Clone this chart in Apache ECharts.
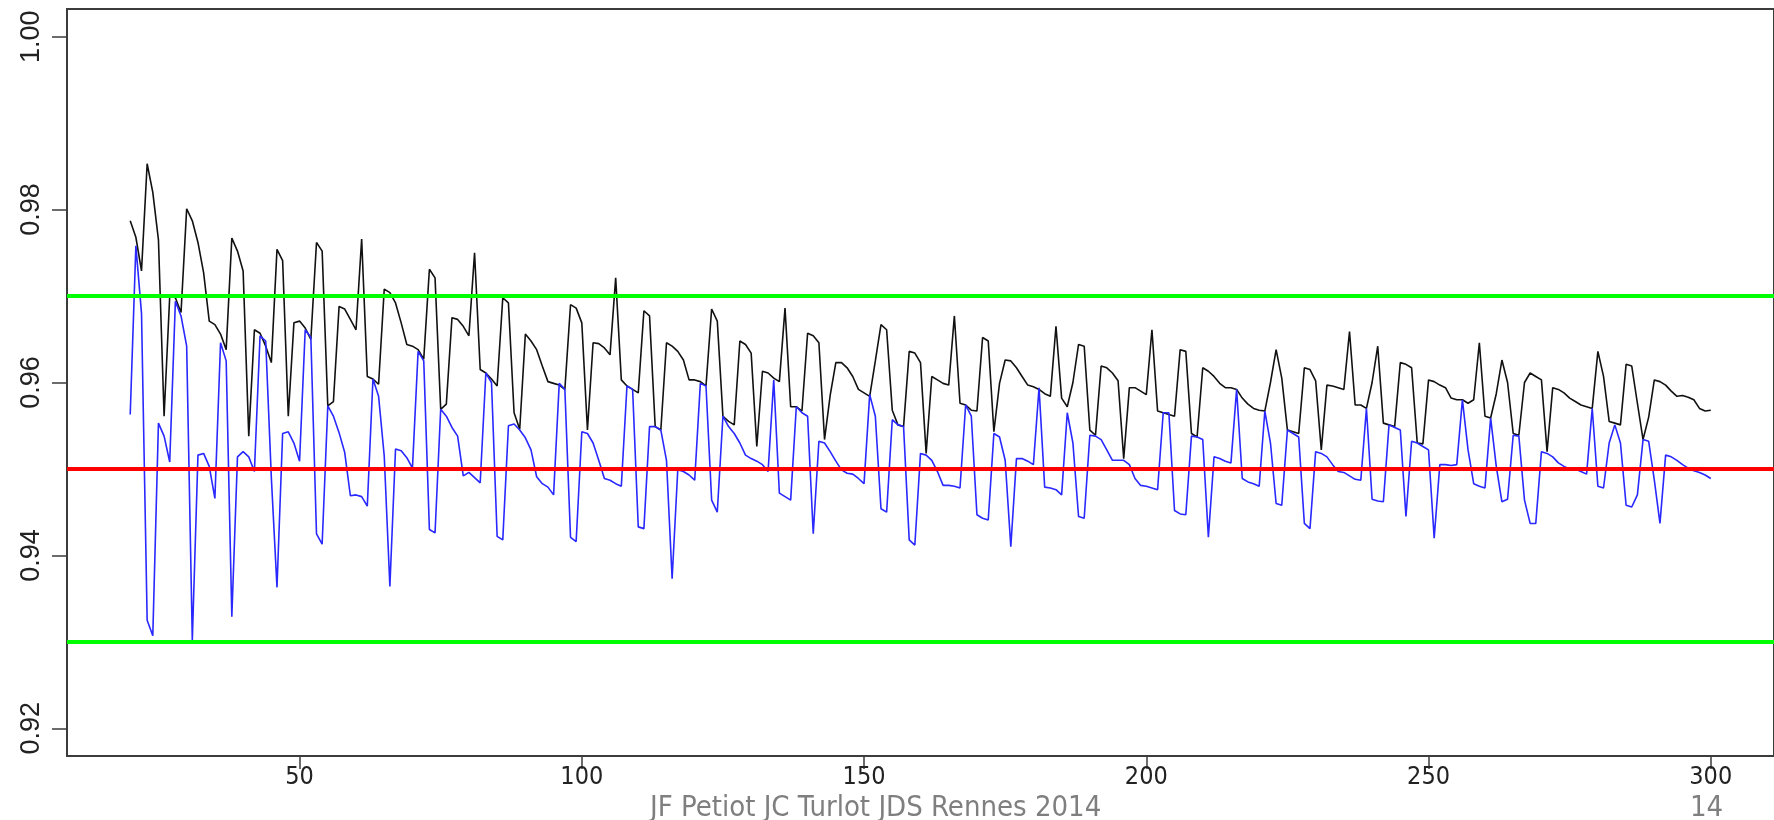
<!DOCTYPE html>
<html>
<head>
<meta charset="utf-8">
<script src="https://cdn.jsdelivr.net/npm/echarts@6/dist/echarts.min.js"></script>
<style>
html,body{margin:0;padding:0;background:#fff;}
#chart{width:1774px;height:820px;}
</style>
</head>
<body>
<div id="chart"></div>
<script>
// n runs from nStart upward, one value per integer n
const nStart = 20;
const xTicks = [50, 100, 150, 200, 250, 300];
const yTicks = [0.92, 0.94, 0.96, 0.98, 1.00];
const refGreen = [0.97, 0.93];
const refRed = [0.95];

const blackSeries = [
  0.9787,0.9768,0.9729,0.9853,0.9820,0.9765,0.9561,0.9700,0.9698,0.9681,
  0.9801,0.9787,0.9762,0.9727,0.9671,0.9667,0.9656,0.9638,0.9767,0.9752,
  0.9729,0.9538,0.9661,0.9657,0.9642,0.9623,0.9754,0.9741,0.9561,0.9669,
  0.9671,0.9663,0.9650,0.9762,0.9752,0.9573,0.9578,0.9688,0.9685,0.9673,
  0.9661,0.9766,0.9607,0.9604,0.9598,0.9708,0.9704,0.9692,0.9669,0.9644,
  0.9642,0.9638,0.9627,0.9731,0.9721,0.9569,0.9575,0.9675,0.9673,0.9665,
  0.9654,0.9750,0.9615,0.9611,0.9604,0.9596,0.9698,0.9692,0.9565,0.9546,
  0.9656,0.9648,0.9638,0.9619,0.9601,0.9599,0.9597,0.9592,0.9690,0.9686,
  0.9669,0.9545,0.9646,0.9645,0.9640,0.9632,0.9721,0.9603,0.9596,0.9592,
  0.9588,0.9683,0.9677,0.9549,0.9545,0.9646,0.9642,0.9636,0.9626,0.9603,
  0.9603,0.9601,0.9596,0.9685,0.9671,0.9561,0.9555,0.9551,0.9648,0.9644,
  0.9634,0.9526,0.9613,0.9611,0.9605,0.9601,0.9686,0.9572,0.9572,0.9567,
  0.9657,0.9654,0.9646,0.9534,0.9585,0.9623,0.9623,0.9617,0.9607,0.9592,
  0.9588,0.9584,0.9625,0.9667,0.9661,0.9568,0.9551,0.9549,0.9636,0.9634,
  0.9623,0.9518,0.9607,0.9603,0.9599,0.9597,0.9677,0.9576,0.9574,0.9568,
  0.9567,0.9652,0.9648,0.9543,0.9599,0.9626,0.9625,0.9617,0.9607,0.9597,
  0.9595,0.9592,0.9587,0.9584,0.9665,0.9582,0.9572,0.9600,0.9644,0.9642,
  0.9545,0.9539,0.9619,0.9617,0.9611,0.9602,0.9512,0.9594,0.9594,0.9590,
  0.9586,0.9661,0.9567,0.9565,0.9563,0.9561,0.9638,0.9636,0.9541,0.9537,
  0.9617,0.9613,0.9607,0.9599,0.9594,0.9594,0.9592,0.9582,0.9575,0.9570,
  0.9568,0.9567,0.9600,0.9638,0.9605,0.9545,0.9543,0.9541,0.9617,0.9615,
  0.9602,0.9522,0.9597,0.9596,0.9594,0.9592,0.9659,0.9574,0.9574,0.9570,
  0.9600,0.9642,0.9553,0.9551,0.9549,0.9623,0.9621,0.9617,0.9530,0.9529,
  0.9603,0.9601,0.9597,0.9594,0.9582,0.9580,0.9580,0.9576,0.9580,0.9646,
  0.9561,0.9559,0.9587,0.9626,0.9600,0.9541,0.9539,0.9600,0.9611,0.9607,
  0.9603,0.9520,0.9594,0.9592,0.9588,0.9582,0.9578,0.9574,0.9572,0.9570,
  0.9636,0.9607,0.9555,0.9553,0.9551,0.9621,0.9619,0.9576,0.9534,0.9560,
  0.9603,0.9601,0.9597,0.9590,0.9584,0.9585,0.9583,0.9580,0.9570,0.9567,
  0.9568
];

const blueSeries = [
  0.9563,0.9758,0.9680,0.9325,0.9307,0.9553,0.9538,0.9508,0.9694,0.9677,
  0.9642,0.9302,0.9516,0.9518,0.9503,0.9466,0.9646,0.9625,0.9329,0.9514,
  0.9520,0.9514,0.9497,0.9654,0.9648,0.9490,0.9363,0.9541,0.9543,0.9530,
  0.9509,0.9661,0.9652,0.9425,0.9413,0.9573,0.9561,0.9542,0.9519,0.9469,
  0.9470,0.9468,0.9457,0.9604,0.9584,0.9515,0.9364,0.9523,0.9521,0.9513,
  0.9501,0.9636,0.9625,0.9430,0.9426,0.9569,0.9561,0.9548,0.9538,0.9492,
  0.9496,0.9490,0.9484,0.9611,0.9600,0.9422,0.9418,0.9550,0.9552,0.9545,
  0.9536,0.9522,0.9491,0.9483,0.9479,0.9470,0.9599,0.9592,0.9421,0.9416,
  0.9543,0.9541,0.9530,0.9510,0.9489,0.9487,0.9483,0.9480,0.9596,0.9592,
  0.9433,0.9431,0.9549,0.9549,0.9545,0.9510,0.9373,0.9499,0.9497,0.9493,
  0.9487,0.9599,0.9596,0.9464,0.9450,0.9561,0.9549,0.9541,0.9530,0.9516,
  0.9512,0.9509,0.9505,0.9497,0.9603,0.9472,0.9468,0.9464,0.9572,0.9565,
  0.9561,0.9425,0.9532,0.9530,0.9520,0.9509,0.9499,0.9495,0.9494,0.9489,
  0.9483,0.9586,0.9561,0.9454,0.9450,0.9557,0.9551,0.9549,0.9418,0.9412,
  0.9518,0.9516,0.9510,0.9497,0.9481,0.9481,0.9480,0.9478,0.9574,0.9561,
  0.9447,0.9443,0.9441,0.9541,0.9537,0.9510,0.9410,0.9512,0.9512,0.9509,
  0.9505,0.9594,0.9479,0.9478,0.9476,0.9470,0.9565,0.9530,0.9445,0.9443,
  0.9539,0.9538,0.9534,0.9522,0.9510,0.9510,0.9510,0.9505,0.9489,0.9481,
  0.9480,0.9478,0.9476,0.9565,0.9565,0.9452,0.9448,0.9447,0.9538,0.9537,
  0.9534,0.9421,0.9514,0.9512,0.9509,0.9507,0.9592,0.9489,0.9485,0.9483,
  0.9480,0.9567,0.9530,0.9460,0.9458,0.9545,0.9541,0.9537,0.9437,0.9431,
  0.9520,0.9518,0.9514,0.9505,0.9497,0.9496,0.9492,0.9488,0.9487,0.9570,
  0.9465,0.9463,0.9462,0.9551,0.9548,0.9545,0.9445,0.9532,0.9530,0.9526,
  0.9522,0.9420,0.9505,0.9505,0.9504,0.9505,0.9580,0.9522,0.9483,0.9480,
  0.9478,0.9559,0.9503,0.9462,0.9465,0.9539,0.9538,0.9464,0.9437,0.9437,
  0.9520,0.9518,0.9514,0.9507,0.9503,0.9500,0.9500,0.9497,0.9494,0.9570,
  0.9480,0.9478,0.9530,0.9551,0.9530,0.9458,0.9456,0.9470,0.9534,0.9532,
  0.9487,0.9437,0.9516,0.9514,0.9510,0.9505,0.9501,0.9498,0.9496,0.9493,
  0.9489
];

const footerText = 'JF Petiot JC Turlot JDS Rennes 2014';
const pageNumber = '14';

const toPairs = arr => arr.map((v, i) => [nStart + i, v]);

const chart = echarts.init(document.getElementById('chart'), null, {renderer: 'canvas'});
const axisFont = "'Liberation Sans Narrow', 'DejaVu Sans Condensed', 'Liberation Sans', Arial, sans-serif";
const footFont = "29px 'Liberation Sans Narrow', 'DejaVu Sans Condensed', 'Open Sans', sans-serif";

const markData = [];
refGreen.forEach(v => markData.push({yAxis: v, lineStyle: {color: '#00ff00', width: 4, type: 'solid'}}));
refRed.forEach(v => markData.push({yAxis: v, lineStyle: {color: '#ff0000', width: 4, type: 'solid'}}));

chart.setOption({
  animation: false,
  backgroundColor: '#ffffff',
  grid: {left: 67, top: 9, bottom: 64, right: -4, show: true, borderColor: '#3c3c3c', borderWidth: 2, backgroundColor: 'transparent'},
  xAxis: {
    type: 'value', min: 8.8, max: 311.2,
    axisLine: {show: false},
    splitLine: {show: false},
    axisTick: {show: true, length: 13, customValues: xTicks, lineStyle: {color: '#3c3c3c', width: 1.5}},
    axisLabel: {customValues: xTicks, margin: 9, color: '#222', fontSize: 25, fontFamily: axisFont}
  },
  yAxis: {
    type: 'value', min: 0.9168, max: 1.0032,
    axisLine: {show: false},
    splitLine: {show: false},
    axisTick: {show: true, length: 15, customValues: yTicks, lineStyle: {color: '#3c3c3c', width: 1.5}},
    axisLabel: {customValues: yTicks, rotate: 90, margin: 22, color: '#222', fontSize: 27,
      fontFamily: "'Liberation Sans', Arial, sans-serif",
      formatter: v => v.toFixed(2)}
  },
  series: [
    {type: 'line', data: toPairs(blackSeries), showSymbol: false, symbol: 'none',
      lineStyle: {color: '#111111', width: 1.6}, z: 2},
    {type: 'line', data: toPairs(blueSeries), showSymbol: false, symbol: 'none',
      lineStyle: {color: '#2828ff', width: 1.6}, z: 3},
    {type: 'line', data: [], z: 10,
      markLine: {silent: true, symbol: 'none', label: {show: false}, data: markData, animation: false}}
  ],
  graphic: [
    {type: 'text', left: 650, top: 794, z: 100,
      style: {text: footerText, fill: '#7f7f7f', font: footFont}},
    {type: 'text', left: 1690, top: 794, z: 100,
      style: {text: pageNumber, fill: '#7f7f7f', font: footFont}}
  ]
});
</script>
</body>
</html>
